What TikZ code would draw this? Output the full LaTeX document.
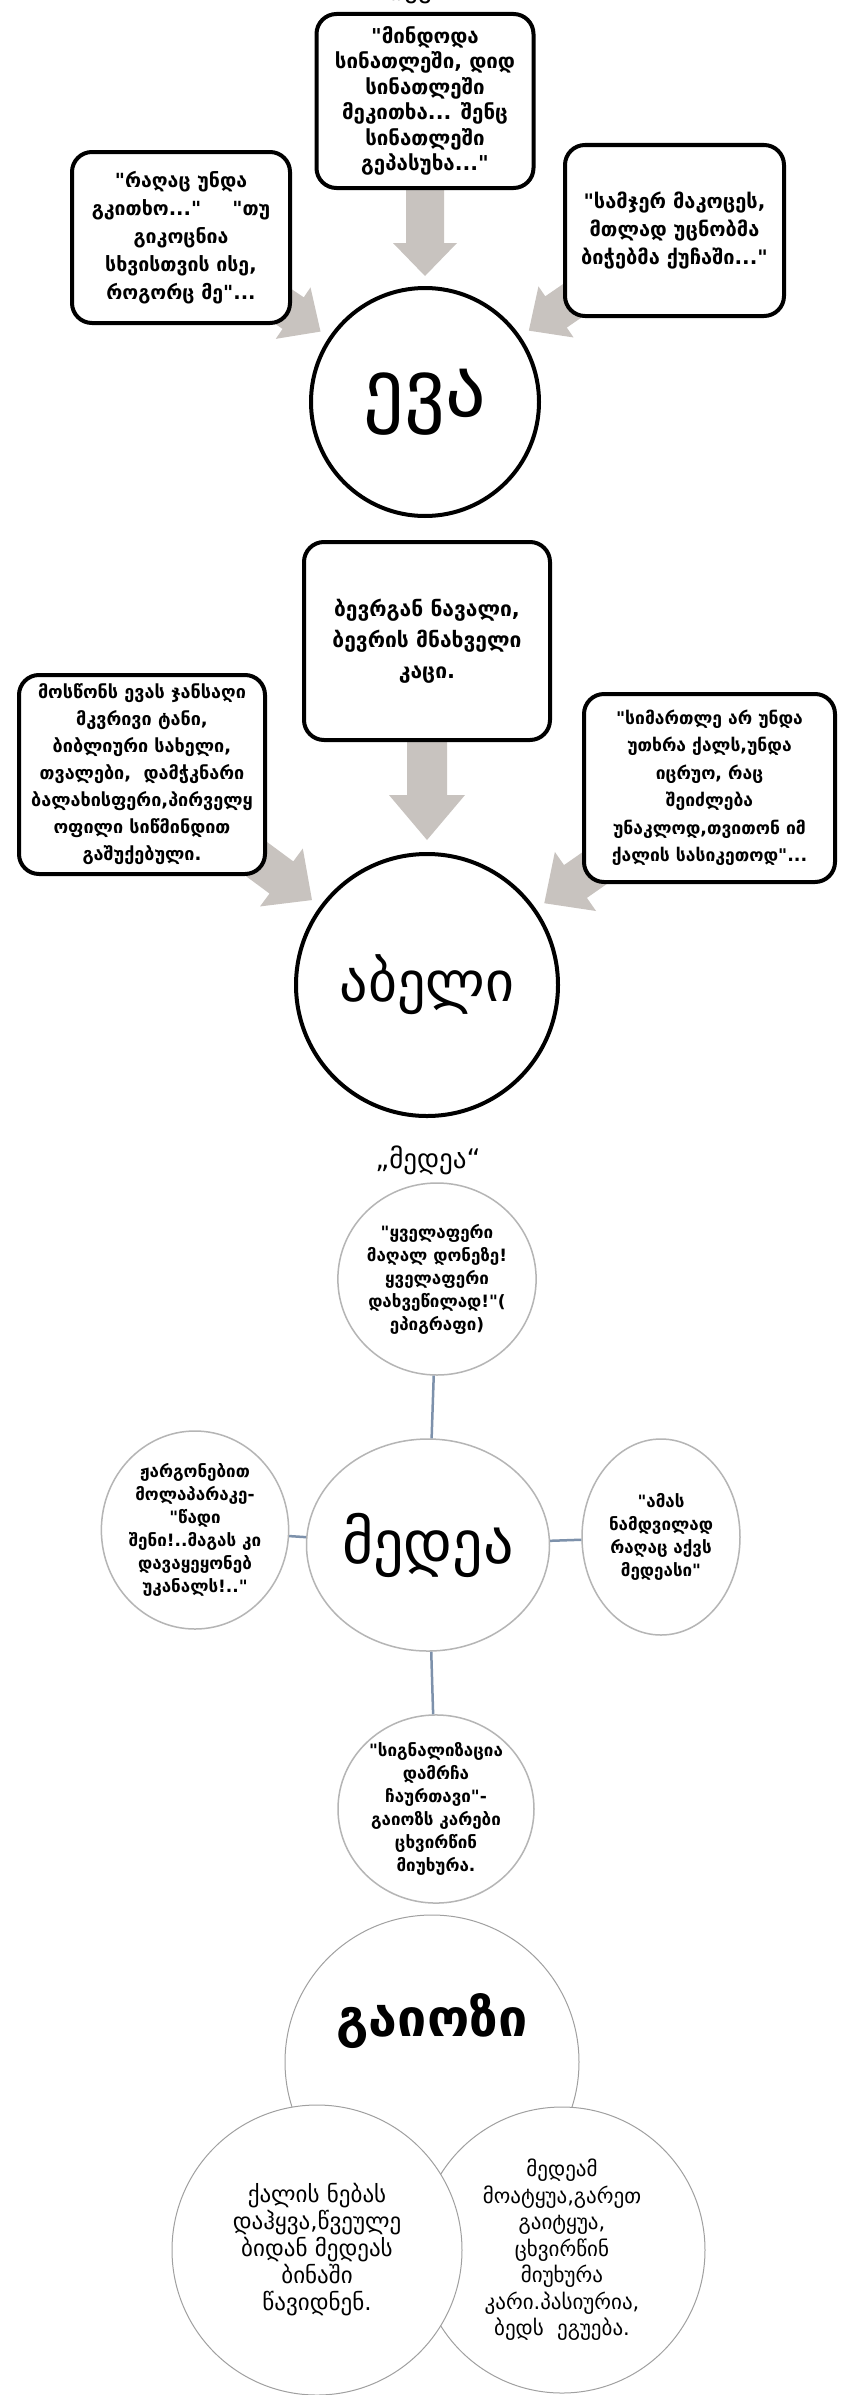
\documentclass[tikz,border=0pt]{standalone}
\usepackage{fontspec}
\setmainfont{DejaVu Sans}[Ligatures=TeXOff]
\usetikzlibrary{calc,shapes.geometric}
\pgfdeclarelayer{bg}
\pgfsetlayers{bg,main}
\definecolor{arrowgray}{HTML}{C8C3BF}
\definecolor{linkblue}{HTML}{7D91AB}
\definecolor{ringgray}{HTML}{B5B5B5}
\definecolor{venngray}{HTML}{A0A0A0}
\tikzset{
  qbox/.style={draw=black, line width=4pt, rounded corners=20pt, fill=white, align=center, inner sep=0pt},
  ringbig/.style={draw=black, line width=4pt, circle, fill=white, inner sep=0pt},
  oval/.style={draw=ringgray, line width=1.5pt, ellipse, fill=white, inner sep=0pt, align=center, font=\bfseries\fontsize{17}{23}\selectfont},
  link/.style={draw=linkblue, line width=2.5pt},
  venn/.style={draw=venngray, line width=1pt, circle, fill=white, inner sep=0pt, align=center},
  ttl/.style={font=\fontsize{27}{30}\selectfont, inner sep=0pt},
}
% #1 start, #2 target node, #3 tip distance from target centre, #4 half shaft, #5 half head, #6 head length
\newcommand\fatarrow[6]{%
  \path ($(#2.center)!#3!(#1)$) coordinate (fa-t)
        ($(fa-t)!#6!(#1)$) coordinate (fa-h);
  \fill[arrowgray] ($(#1)!#4!90:(fa-t)$) -- ($(fa-h)!#4!90:(fa-t)$) -- ($(fa-h)!#5!90:(fa-t)$)
     -- (fa-t) -- ($(fa-h)!#5!-90:(fa-t)$) -- ($(fa-h)!#4!-90:(fa-t)$) -- ($(#1)!#4!-90:(fa-t)$) -- cycle;
}
\begin{document}
\begin{tikzpicture}[x=1pt,y=-1pt]
\useasboundingbox (0,0) rectangle (854,2395);
\begin{pgfonlayer}{bg}
\fill[white] (0,0) rectangle (854,2395);
\end{pgfonlayer}

% ---------- section 1 : Eva ----------
\node[ttl] (t1) at (425,-9) {„ევა“};
\node[qbox, minimum width=217pt, minimum height=174pt, font=\bfseries\fontsize{20.5}{25.5}\selectfont] (e1) at (425,101)
  {"მინდოდა\\სინათლეში, დიდ\\სინათლეში\\მეკითხა... შენც\\სინათლეში\\გეპასუხა..."};
\node[qbox, minimum width=218pt, minimum height=171pt, font=\bfseries\fontsize{19.5}{28}\selectfont] (e2) at (181,237.5)
  {"რაღაც უნდა\\გკითხო..."\hspace{1.6em}"თუ\\გიკოცნია\\სხვისთვის ისე,\\როგორც მე"...};
\node[qbox, minimum width=219pt, minimum height=171pt, font=\bfseries\fontsize{20}{28}\selectfont] (e3) at (674.5,230.5)
  {"სამჯერ მაკოცეს,\\მთლად უცნობმა\\ბიჭებმა ქუჩაში..."};
\node[ringbig, minimum size=228pt, font=\fontsize{80}{90}\selectfont] (eva) at (425,402) {ევა};
\begin{pgfonlayer}{bg}
\fatarrow{e1.south}{eva}{126pt}{19pt}{32pt}{33pt}
\fatarrow{e2.center}{eva}{126pt}{19pt}{31pt}{33pt}
\fatarrow{e3.center}{eva}{126pt}{19pt}{31pt}{33pt}
\end{pgfonlayer}

% ---------- section 2 : Abel ----------
\node[qbox, minimum width=246pt, minimum height=198pt, font=\bfseries\fontsize{21}{31}\selectfont] (a1) at (427,641)
  {ბევრგან ნავალი,\\ბევრის მნახველი\\კაცი.};
\node[qbox, minimum width=246pt, minimum height=199pt, font=\bfseries\fontsize{18}{27}\selectfont] (a2) at (142,774.5)
  {მოსწონს ევას ჯანსაღი\\მკვრივი ტანი,\\ბიბლიური სახელი,\\თვალები,\ \ დამჭკნარი\\ბალახისფერი,პირველყ\\ოფილი სიწმინდით\\გაშუქებული.};
\node[qbox, minimum width=251pt, minimum height=188pt, font=\bfseries\fontsize{17.5}{27.5}\selectfont] (a3) at (709.5,788)
  {"სიმართლე არ უნდა\\უთხრა ქალს,უნდა\\იცრუო, რაც\\შეიძლება\\უნაკლოდ,თვითონ იმ\\ქალის სასიკეთოდ"...};
\node[ringbig, minimum size=262pt, font=\fontsize{56}{64}\selectfont] (abel) at (427,985) {აბელი};
\begin{pgfonlayer}{bg}
\fatarrow{a1.south}{abel}{145pt}{20pt}{38pt}{45pt}
\fatarrow{a2.center}{abel}{143pt}{20pt}{36pt}{38pt}
\fatarrow{a3.center}{abel}{143pt}{20pt}{36pt}{38pt}
\end{pgfonlayer}

% ---------- section 3 : Medea ----------
\node[ttl] (t3) at (428,1160) {„მედეა“};
\node[oval, minimum width=194pt, minimum height=192pt] (m1) at (437,1279)
  {"ყველაფერი\\მაღალ დონეზე!\\ყველაფერი\\დახვეწილად!"(\\ეპიგრაფი)};
\node[oval, minimum width=234pt, minimum height=212pt, font=\fontsize{60}{70}\selectfont] (mc) at (428,1545) {მედეა};
\node[oval, minimum width=160pt, minimum height=198pt] (m2) at (195,1530)
  {ჟარგონებით\\მოლაპარაკე-\\"წადი\\შენი!..მაგას კი\\დავაყეყონებ\\უკანალს!.."};
\node[oval, minimum width=158pt, minimum height=196pt] (m3) at (661,1537)
  {"ამას\\ნამდვილად\\რაღაც აქვს\\მედეასი"};
\node[oval, minimum width=196pt, minimum height=184pt] (m4) at (436,1809)
  {"სიგნალიზაცია\\დამრჩა\\ჩაურთავი"-\\გაიოზს კარები\\ცხვირწინ\\მიუხურა.};
\draw[link] (m1) -- (mc);
\draw[link] (m2) -- (mc);
\draw[link] (m3) -- (mc);
\draw[link] (mc) -- (m4);

% ---------- section 4 : Gaiozi ----------
\node[venn, minimum size=294pt, font=\bfseries\fontsize{52}{60}\selectfont] (g1) at (432,2062) {\smash{\raisebox{26pt}{გაიოზი}}};
\node[venn, minimum size=286pt, font=\fontsize{21}{26.5}\selectfont] (g3) at (562,2250)
  {მედეამ\\მოატყუა,გარეთ\\გაიტყუა,\\ცხვირწინ\\მიუხურა\\კარი.პასიურია,\\ბედს\ \ ეგუება.};
\node[venn, minimum size=290pt, font=\fontsize{23}{27}\selectfont] (g2) at (317,2250)
  {ქალის ნებას\\დაჰყვა,წვეულე\\ბიდან მედეას\\ბინაში\\წავიდნენ.};
\end{tikzpicture}
\end{document}
